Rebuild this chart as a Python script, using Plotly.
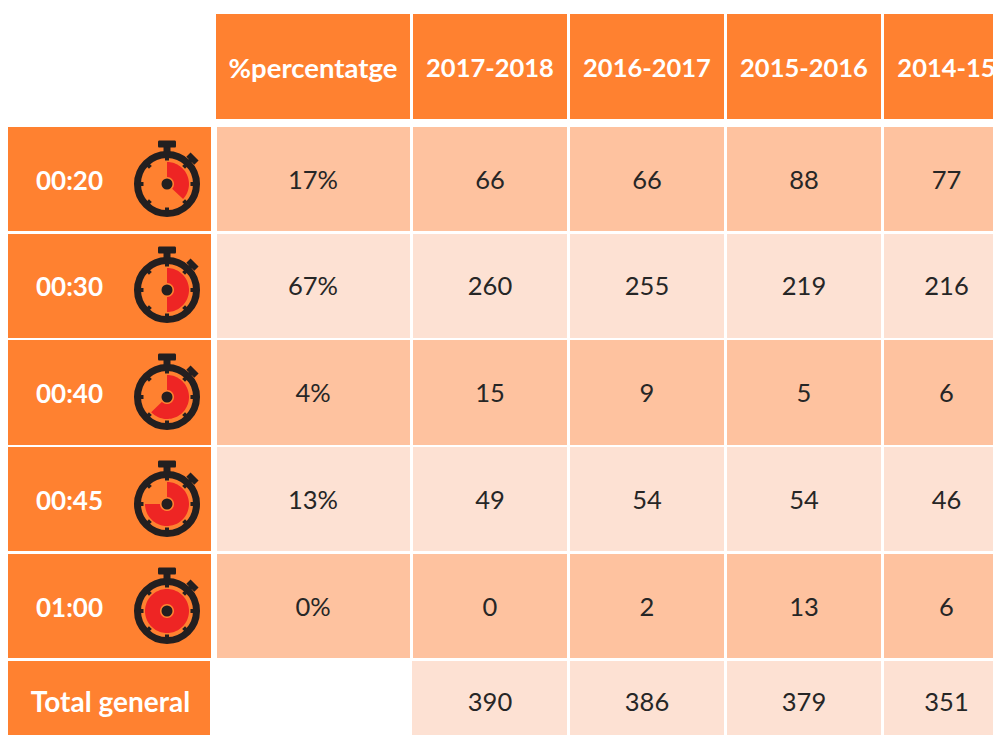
import math
import plotly.graph_objects as go

# ---- data ----
row_labels = ["00:20", "00:30", "00:40", "00:45", "01:00"]
total_label = "Total general"
col_labels = ["%percentatge", "2017-2018", "2016-2017", "2015-2016", "2014-15"]
percentages = ["17%", "67%", "4%", "13%", "0%"]
y2017_2018 = [66, 260, 15, 49, 0]
y2016_2017 = [66, 255, 9, 54, 2]
y2015_2016 = [88, 219, 5, 54, 13]
y2014_2015 = [77, 216, 6, 46, 6]
totals = [390, 386, 379, 351]
dial_sweep_deg = [133, 180, 226, 270, 360]

# ---- layout ----
W, H = 993, 735
ORANGE = "#FF8130"
DARK = "#FEC29F"
LIGHT = "#FDE1D3"
RED = "#EE2524"
INK = "#231F20"
TEXT = "#262626"
FONT = "Lato"

col_spans = [(216, 410), (413, 567), (570, 724), (727, 881), (884, 1010)]
body_spans = [(127, 231), (234, 338), (340, 445), (447, 551), (554, 658)]
head_span = (14, 119)
total_span = (661, 735)
label_span = (8, 211)

shapes = []


def rect(x0, x1, y0, y1, color):
    shapes.append(dict(type="rect", x0=x0, x1=x1, y0=y0, y1=y1, fillcolor=color,
                       line_width=0, layer="below"))


for (x0, x1), in zip(col_spans):
    rect(x0, x1, *head_span, ORANGE)
for i, (y0, y1) in enumerate(body_spans):
    rect(*label_span, y0, y1, ORANGE)
    for (x0, x1) in col_spans:
        rect(x0 + (1 if x0 == 216 else 0), x1, y0, y1, DARK if i % 2 == 0 else LIGHT)
rect(8, 210, *total_span, ORANGE)
for (x0, x1) in col_spans[1:]:
    rect(x0 - 1 if x0 == 413 else x0, x1, *total_span, LIGHT)


def polar(cx, cy, r, deg):
    a = math.radians(deg)
    return cx + r * math.sin(a), cy - r * math.cos(a)


def wedge_path(cx, cy, r_in, r_out, sweep):
    steps = max(2, int(sweep / 4))
    outer = [polar(cx, cy, r_out, sweep * k / steps) for k in range(steps + 1)]
    inner = [polar(cx, cy, r_in, sweep * k / steps) for k in range(steps, -1, -1)]
    pts = outer + inner
    return "M" + " L".join(f"{x:.2f},{y:.2f}" for x, y in pts) + " Z"


def stopwatch(cx, cy, sweep):
    # red wedge
    shapes.append(dict(type="path", path=wedge_path(cx, cy, 7, 22, sweep),
                       fillcolor=RED, line_width=0, layer="below"))
    # ring
    shapes.append(dict(type="circle", x0=cx - 29.5, x1=cx + 29.5, y0=cy - 29.5, y1=cy + 29.5,
                       line=dict(color=INK, width=7), fillcolor="rgba(0,0,0,0)", layer="below"))
    # hub
    shapes.append(dict(type="circle", x0=cx - 5.5, x1=cx + 5.5, y0=cy - 5.5, y1=cy + 5.5,
                       fillcolor=INK, line_width=0, layer="below"))
    # ticks
    for k in range(8):
        x0, y0 = polar(cx, cy, 28, 45 * k)
        x1, y1 = polar(cx, cy, 23.5, 45 * k)
        shapes.append(dict(type="line", x0=x0, y0=y0, x1=x1, y1=y1,
                           line=dict(color=INK, width=4), layer="below"))
    # crown
    shapes.append(dict(type="line", x0=cx, x1=cx, y0=cy - 38, y1=cy - 30,
                       line=dict(color=INK, width=7), layer="below"))
    shapes.append(dict(type="path",
                       path=f"M{cx-8},{cy-43.5} L{cx+8},{cy-43.5} Q{cx+9},{cy-43.5} {cx+9},{cy-42} "
                            f"L{cx+9},{cy-38} Q{cx+9},{cy-36.5} {cx+8},{cy-36.5} "
                            f"L{cx-8},{cy-36.5} Q{cx-9},{cy-36.5} {cx-9},{cy-38} "
                            f"L{cx-9},{cy-42} Q{cx-9},{cy-43.5} {cx-8},{cy-43.5} Z",
                       fillcolor=INK, line_width=0, layer="below"))
    # side button
    x0, y0 = polar(cx, cy, 28, 45)
    x1, y1 = polar(cx, cy, 36, 45)
    shapes.append(dict(type="line", x0=x0, y0=y0, x1=x1, y1=y1,
                       line=dict(color=INK, width=4), layer="below"))
    x0, y0 = polar(cx, cy, 36, 45)
    d = 4
    shapes.append(dict(type="line", x0=x0 - d, y0=y0 - d, x1=x0 + d, y1=y0 + d,
                       line=dict(color=INK, width=6), layer="below"))


dial_centres_y = [184, 290, 397, 504, 611]
for cy, sweep in zip(dial_centres_y, dial_sweep_deg):
    stopwatch(167, cy, sweep)

fig = go.Figure()

col_centres = [313, 490, 647, 804, 946.5]
head_y = 71
body_y = [183, 289, 396, 503, 610]
total_y = 705
label_x = 69.5


def text_trace(xs, ys, texts, bold=False, size=25.5):
    fig.add_trace(go.Scatter(
        x=xs, y=ys, text=[str(t) for t in texts], mode="text",
        textposition="middle center", hoverinfo="skip", showlegend=False,
        cliponaxis=False,
        textfont=dict(family=FONT, size=size, color="white" if bold else TEXT,
                      weight="bold" if bold else "normal"),
    ))


text_trace(col_centres[:1], [head_y], col_labels[:1], bold=True, size=27.5)
text_trace(col_centres[1:], [head_y] * 4, col_labels[1:], bold=True)
text_trace([label_x] * 5, body_y, row_labels, bold=True, size=26)
text_trace([110.5], [total_y], [total_label], bold=True, size=28)

columns = [percentages, y2017_2018, y2016_2017, y2015_2016, y2014_2015]
for xc, values in zip(col_centres, columns):
    text_trace([xc] * len(values), body_y, values)
text_trace(col_centres[1:], [total_y] * 4, totals)

fig.update_layout(
    width=W, height=H, margin=dict(l=0, r=0, t=0, b=0),
    paper_bgcolor="white", plot_bgcolor="white", shapes=shapes, showlegend=False,
    xaxis=dict(range=[0, W], visible=False, fixedrange=True),
    yaxis=dict(range=[H, 0], visible=False, fixedrange=True),
)
fig.write_html("out.html", config={"displayModeBar": False},
               post_script="document.body.style.margin='0';document.body.style.overflow='hidden';")
